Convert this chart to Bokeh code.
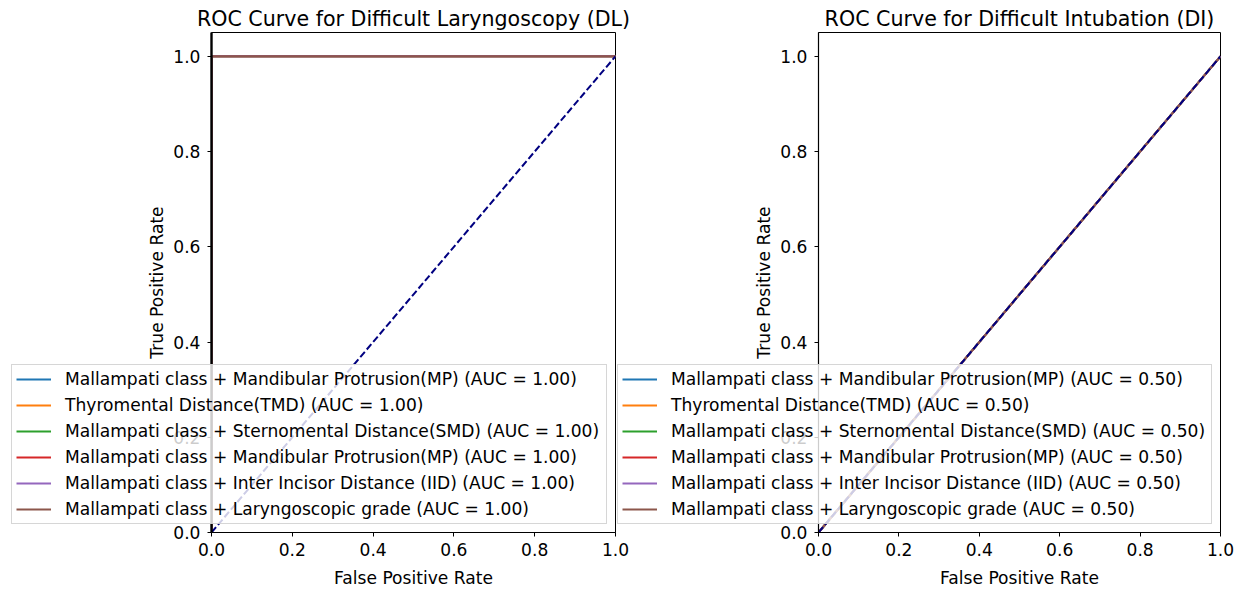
from bokeh.plotting import figure
from bokeh.models import Legend, LegendItem, FixedTicker, Range1d, CustomJSTickFormatter
from bokeh.layouts import row, column
from bokeh.embed import file_html
from bokeh.resources import INLINE

# ---- data ----
model_names = [
    "Mallampati class + Mandibular Protrusion(MP)",
    "Thyromental Distance(TMD)",
    "Mallampati class + Sternomental Distance(SMD)",
    "Mallampati class + Mandibular Protrusion(MP)",
    "Mallampati class + Inter Incisor Distance (IID)",
    "Mallampati class + Laryngoscopic grade",
]
colors = ["#1f77b4", "#ff7f0e", "#2ca02c", "#d62728", "#9467bd", "#8c564b"]

dl_fpr = [[0, 0, 1], [0, 0, 1], [0, 0, 1], [0, 0, 1], [0, 0, 1], [0, 0, 1]]
dl_tpr = [[0, 1, 1], [0, 1, 1], [0, 1, 1], [0, 1, 1], [0, 1, 1], [0, 1, 1]]
dl_auc = [1.00, 1.00, 1.00, 1.00, 1.00, 1.00]

di_fpr = [[0, 1], [0, 1], [0, 1], [0, 1], [0, 1], [0, 1]]
di_tpr = [[0, 1], [0, 1], [0, 1], [0, 1], [0, 1], [0, 1]]
di_auc = [0.50, 0.50, 0.50, 0.50, 0.50, 0.50]

chance_x = [0, 1]
chance_y = [0, 1]
ticks = [0.0, 0.2, 0.4, 0.6, 0.8, 1.0]

FONT = "DejaVu Sans"
TXT = "17.1px"
TITLE = "20.6px"
FIG_H = 584


def make_panel(title, fprs, tprs, border_left, frame_w, border_right, yline_w):
    p = figure(
        output_backend="svg", toolbar_location=None,
        frame_width=frame_w, frame_height=500,
        min_border_left=border_left, min_border_right=border_right,
        min_border_top=32, min_border_bottom=FIG_H - 532,
        x_range=Range1d(0, 1), y_range=Range1d(0, 1.05),
        title=title,
    )
    p.border_fill_alpha = 0
    p.background_fill_color = "white"
    p.title.text_font = FONT
    p.title.text_font_size = TITLE
    p.title.text_font_style = "normal"
    p.title.align = "center"
    p.title.text_color = "#000000"
    p.title.standoff = 4
    p.outline_line_color = "black"
    p.outline_line_width = 1
    p.outline_line_alpha = 1
    p.grid.visible = False
    for ax in (p.xaxis[0], p.yaxis[0]):
        ax.ticker = FixedTicker(ticks=ticks)
        ax.formatter = CustomJSTickFormatter(code="return tick.toFixed(1);")
        ax.major_label_text_font = FONT
        ax.major_label_text_font_size = TXT
        ax.major_label_text_color = "#000000"
        ax.axis_label_text_font = FONT
        ax.axis_label_text_font_size = TXT
        ax.axis_label_text_font_style = "normal"
        ax.axis_label_text_color = "#000000"
        ax.axis_line_color = "black"
        ax.axis_line_width = 1.2
        ax.major_tick_line_color = "black"
        ax.major_tick_out = 4
        ax.major_tick_in = 0
        ax.minor_tick_out = 0
        ax.minor_tick_in = 0
    p.yaxis.axis_line_width = yline_w
    p.xaxis.major_label_standoff = 6
    p.yaxis.major_label_standoff = 7
    p.xaxis.axis_label = "False Positive Rate"
    p.yaxis.axis_label = "True Positive Rate"
    p.xaxis.axis_label_standoff = 9
    p.yaxis.axis_label_standoff = 3

    for c, fx, ty in zip(colors, fprs, tprs):
        p.line(fx, ty, line_color=c, line_width=2)
    p.line(chance_x, chance_y, line_color="#000080", line_width=2, line_dash="7 3")
    return p


p1 = make_panel("ROC Curve for Difficult Laryngoscopy (DL)", dl_fpr, dl_tpr, 211, 404, 20, 2.4)
p2 = make_panel("ROC Curve for Difficult Intubation (DI)", di_fpr, di_tpr, 201, 402, 14, 1.2)
p2.margin = (0, 0, 0, -18)

# ---- legend overlay (legends drawn over both axes, like the reference) ----
OV_TOP = 356
OV_H = 170
ov = figure(
    output_backend="svg", toolbar_location=None,
    width=1234, height=OV_H,
    min_border=0, min_border_left=0, min_border_right=0,
    min_border_top=0, min_border_bottom=0,
    x_axis_type=None, y_axis_type=None,
    x_range=Range1d(5, 6), y_range=Range1d(5, 6),
)
ov.outline_line_color = None
ov.background_fill_alpha = 0
ov.border_fill_alpha = 0
ov.grid.visible = False
ov.margin = (OV_TOP - FIG_H, 0, 0, 0)


def add_legend(fprs, tprs, aucs, left_x, label_w):
    items = []
    for name, c, fx, ty, auc in zip(model_names, colors, fprs, tprs, aucs):
        r = ov.line(fx, ty, line_color=c, line_width=2)
        r.visible = False
        items.append(LegendItem(label=f"{name} (AUC = {auc:.2f})", renderers=[r]))
    leg = Legend(items=items, location=(left_x, OV_TOP + OV_H - 518))
    leg.label_text_font = FONT
    leg.label_text_font_size = TXT
    leg.label_text_color = "#000000"
    leg.glyph_width = 35
    leg.glyph_height = 20
    leg.label_height = 20
    leg.label_width = label_w
    leg.label_standoff = 14
    leg.spacing = 6
    leg.padding = 4
    leg.margin = 0
    leg.background_fill_color = "white"
    leg.background_fill_alpha = 0.8
    leg.border_line_color = "#cccccc"
    leg.border_line_alpha = 0.8
    leg.border_line_width = 1
    ov.add_layout(leg, "center")


add_legend(dl_fpr, dl_tpr, dl_auc, 11, 537)
add_legend(di_fpr, di_tpr, di_auc, 617, 536)

layout = column(row(p1, p2, spacing=0), ov, spacing=0)
open("out.html", "w").write(file_html(layout, INLINE))
